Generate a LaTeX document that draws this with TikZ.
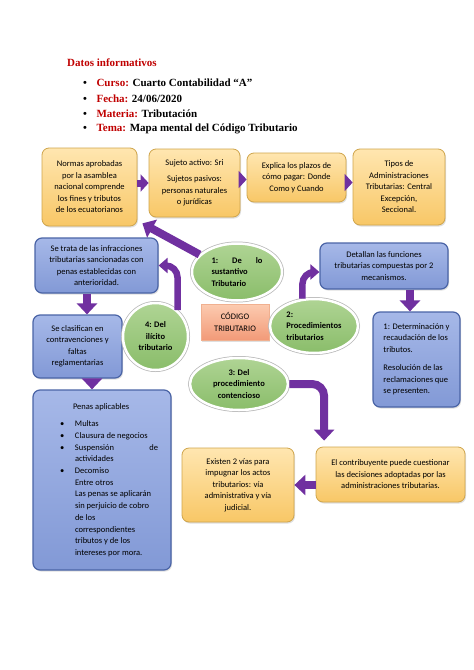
\documentclass[tikz,border=0pt]{standalone}
\usepackage{fontspec}
\setmainfont{Carlito}
\newfontfamily\hdfont{Liberation Serif}
\usetikzlibrary{arrows.meta}
\usetikzlibrary{shapes.geometric}
\usetikzlibrary{shadows}
\definecolor{purp}{HTML}{7030A0}
\definecolor{hdred}{HTML}{C00000}
\definecolor{orTop}{HTML}{FFE6B0}
\definecolor{orBot}{HTML}{F8C766}
\definecolor{orLine}{HTML}{CFA54C}
\definecolor{blTop}{HTML}{A6B8E8}
\definecolor{blBot}{HTML}{8299D6}
\definecolor{blLine}{HTML}{4A64A6}
\definecolor{grTop}{HTML}{AFD494}
\definecolor{grBot}{HTML}{8ABD6A}
\definecolor{grRim}{HTML}{B8B8B8}
\definecolor{saTop}{HTML}{FCCBB0}
\definecolor{saBot}{HTML}{F29A78}
\definecolor{saLine}{HTML}{F0B090}
\newcommand\mapfont{\fontsize{8.5}{11.5}\selectfont}
\newcommand\hdline{\fontsize{11}{13}\selectfont\hdfont\bfseries}
\newcommand\pbul{\hspace*{14pt}\makebox[15pt][l]{\textbullet}}
\newcommand\pind{\hspace*{29pt}}
\tikzset{
  obox/.style={rectangle, rounded corners=7pt, top color=orTop, bottom color=orBot, draw=orLine, line width=.8pt, align=center, inner sep=2pt, font=\mapfont, drop shadow={opacity=.25, shadow xshift=1pt, shadow yshift=-1.5pt}},
  bbox/.style={rectangle, rounded corners=7pt, top color=blTop, bottom color=blBot, draw=blLine, line width=1.2pt, align=center, inner sep=2pt, font=\mapfont, drop shadow={opacity=.25, shadow xshift=1pt, shadow yshift=-1.5pt}},
  gell/.style={ellipse, top color=grTop, bottom color=grBot, draw=white, line width=2.5pt, inner sep=0pt, align=center, font=\mapfont\bfseries, drop shadow={opacity=.3, shadow xshift=.8pt, shadow yshift=-1.2pt}, preaction={draw=grRim, line width=4pt}},
  sbox/.style={rectangle, top color=saTop, bottom color=saBot, draw=saLine, line width=.8pt, align=center, inner sep=2pt, font=\mapfont, drop shadow={opacity=.25, shadow xshift=1pt, shadow yshift=-1.5pt}},
  hdtext/.style={anchor=west, inner sep=0pt, font=\hdline},
  bigarrow/.style={draw=purp, line width=8pt, -{Triangle[width=20pt,length=11pt]}},
  bendarrow/.style={draw=purp, line width=6.5pt, rounded corners=12pt, -{Triangle[width=15pt,length=9pt]}},
  hop/.style={draw=purp, line width=7pt, -{Triangle[width=17pt,length=8pt]}},
}
\begin{document}
\begin{tikzpicture}[x=1pt, y=-1pt]
\useasboundingbox[fill=white] (0,0) rectangle (474,670);
\node[hdtext, text=hdred] (title) at (67,63) {Datos informativos};
\node[hdtext] (curso) at (83,83) {\textbullet\hspace{9.5pt}\textcolor{hdred}{Curso:} Cuarto Contabilidad “A”};
\node[hdtext] (fecha) at (83,98.5) {\textbullet\hspace{9.5pt}\textcolor{hdred}{Fecha:} 24/06/2020};
\node[hdtext] (materia) at (83,113.5) {\textbullet\hspace{9.5pt}\textcolor{hdred}{Materia:} Tributación};
\node[hdtext] (tema) at (83,128.5) {\textbullet\hspace{9.5pt}\textcolor{hdred}{Tema:} Mapa mental del Código Tributario};

\node[obox, minimum width=95pt, minimum height=78pt] (normas) at (89.5,187) {Normas aprobadas\\por la asamblea\\nacional comprende\\los fines y tributos\\de los ecuatorianos};
\node[obox, minimum width=91pt, minimum height=68pt] (sujetos) at (194.5,183) {Sujeto activo: Sri\\[5pt]Sujetos pasivos:\\personas naturales\\o jurídicas};
\node[obox, minimum width=99pt, minimum height=49pt] (plazos) at (296.5,177.5) {Explica los plazos de\\cómo pagar: Donde\\Como y Cuando};
\node[obox, minimum width=92pt, minimum height=76pt] (tipos) at (399,187) {Tipos de\\Administraciones\\Tributarias: Central\\Excepción,\\Seccional.};

\node[bbox, minimum width=123pt, minimum height=55pt] (trata) at (96.5,265.5) {Se trata de las infracciones\\tributarias sancionadas con\\penas establecidas con\\anterioridad.};
\node[bbox, minimum width=89pt, minimum height=63pt] (clasif) at (77.5,346.5) {Se clasifican en\\contravenciones y\\faltas\\reglamentarias};
\node[bbox, minimum width=138pt, minimum height=180pt, align=left, font=\fontsize{8.5}{11.7}\selectfont] (penas) at (102,480) {\hspace*{27pt}Penas aplicables\\[6pt]
\pbul Multas\\
\pbul Clausura de negocios\\
\pbul\makebox[83pt][s]{Suspensión\hfill de}\\
\pind actividades\\
\pbul Decomiso\\
\pind Entre otros\\
\pind Las penas se aplicarán\\
\pind sin perjuicio de cobro\\
\pind de los\\
\pind correspondientes\\
\pind tributos y de los\\
\pind intereses por mora.};

\node[gell, minimum width=90pt, minimum height=57pt, align=left] (sust) at (237,272) {\makebox[51pt][s]{1:\hfill De\hfill lo}\\sustantivo\\Tributario};
\node[sbox, minimum width=68pt, minimum height=36pt] (codigo) at (235,322) {CÓDIGO\\TRIBUTARIO};
\node[gell, minimum width=88pt, minimum height=54pt, align=left] (proc) at (314,326) {2:\\Procedimientos\\tributarios};
\node[gell, minimum width=98pt, minimum height=52pt] (cont) at (239,384) {3: Del\\procedimiento\\contencioso};
\node[gell, minimum width=65pt, minimum height=67pt] (ilicito) at (155.5,336.5) {4: Del\\ilícito\\tributario};

\node[bbox, minimum width=128pt, minimum height=46pt] (detallan) at (384,266) {Detallan las funciones\\tributarias compuestas por 2\\mecanismos.};
\node[bbox, minimum width=87pt, minimum height=95pt, align=left] (determ) at (416.5,359.5) {1: Determinación y\\recaudación de los\\tributos.\\[7pt]Resolución de las\\reclamaciones que\\se presenten.};

\node[obox, minimum width=149pt, minimum height=55pt] (contrib) at (390.5,474.5) {El contribuyente puede cuestionar\\las decisiones adoptadas por las\\administraciones tributarias.};
\node[obox, minimum width=112pt, minimum height=74pt] (existen) at (238,485) {Existen 2 vías para\\impugnar los actos\\tributarios: vía\\administrativa y vía\\judicial.};

\draw[hop] (normas.east |- sujetos) -- (sujetos.west);
\draw[hop] ([yshift=-2pt]sujetos.east |- plazos) -- ([yshift=-2pt]plazos.west);
\draw[hop] ([yshift=-5pt]plazos.east) -- ([yshift=-5pt]plazos.east -| tipos.west);
\draw[bigarrow] (sust.155) -- ([shift={(5pt,3pt)}]normas.south east);
\draw[bendarrow] (ilicito.50) |- (trata.east);
\draw[bigarrow] ([xshift=-9.5pt]trata.south) -- ([xshift=-9.5pt]trata.south |- clasif.north);
\draw[bigarrow] ([xshift=14.5pt]clasif.south) -- ([xshift=14.5pt]clasif.south |- penas.north);
\draw[bendarrow] (proc.113) |- ([yshift=-6pt]detallan.west);
\draw[bigarrow] ([xshift=-6.5pt]determ.north |- detallan.south) -- ([xshift=-6.5pt]determ.north);
\draw[bigarrow, rounded corners=12pt, shorten >=6pt] (cont.east) -| ([xshift=8.5pt]contrib.north west);
\draw[bigarrow] (contrib.west |- existen) -- (existen);
\end{tikzpicture}
\end{document}
